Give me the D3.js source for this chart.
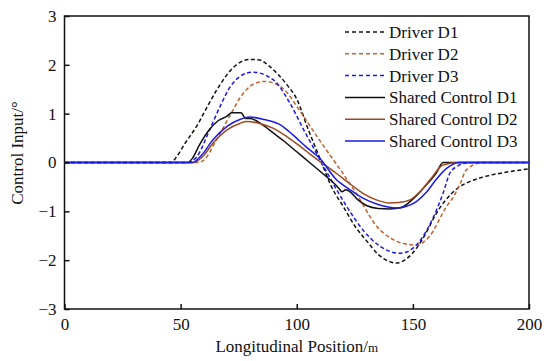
<!DOCTYPE html>
<html lang="en">
<head>
  <meta charset="UTF-8">
  <title>Control Input vs Longitudinal Position</title>
  <script src="https://d3js.org/d3.v7.min.js"></script>
  <style>
    body { margin: 0; background: #fff; }
    svg { display: block; }
    text { font-family: "Liberation Serif", "Times New Roman", serif; fill: #111; }
    .tick-label { font-size: 17px; }
    .axis-title { font-size: 17px; }
    .legend-label { font-size: 17px; }
  </style>
</head>
<body>
  <svg id="chart" width="550" height="361"></svg>

  <script>
    // ----- data (x in m, control input in deg) -----
    const xTicks = [0, 50, 100, 150, 200];
    const yTicks = [-3, -2, -1, 0, 1, 2, 3];

    const driverD1 = [[0,0],[46,0],[48,0.1],[52,0.4],[57,0.75],[61,1.1],[65.5,1.48],[70,1.8],[74,2.0],[80,2.11],[84,2.1],[88,1.98],[92,1.8],[96,1.58],[100,1.3],[105,0.67],[110,0.08],[115,-0.5],[120,-0.9],[125,-1.3],[130,-1.6],[135,-1.88],[140,-2.03],[143,-2.06],[147,-1.98],[150,-1.85],[155,-1.5],[160,-1.05],[165,-0.72],[170,-0.5],[175,-0.38],[180,-0.3],[190,-0.2],[200,-0.13]];
    const driverD2 = [[0,0],[57,0],[60,0.05],[65.5,0.47],[71,0.94],[77,1.42],[82.5,1.63],[86.5,1.66],[94,1.52],[101,1.08],[108.5,0.55],[113,0.24],[118.5,-0.13],[126,-0.66],[134,-1.28],[141.5,-1.58],[146,-1.66],[151.5,-1.69],[157,-1.52],[164.5,-0.9],[167.5,-0.7],[170.5,-0.42],[173,-0.15],[180,0],[200,0]];
    const driverD3 = [[0,0],[53,0],[57,0.12],[62.5,0.67],[67,1.15],[71.5,1.56],[75.5,1.76],[81,1.85],[90,1.69],[97,1.22],[103,0.67],[108.5,0.19],[114,-0.29],[121.5,-0.9],[128.5,-1.38],[136,-1.72],[144.5,-1.86],[151.5,-1.69],[159,-1.1],[163,-0.63],[166,-0.21],[169,-0.08],[173,-0.01],[176,0],[200,0]];
    const sharedD1 = [[0,0],[53,0],[55,0.08],[58,0.35],[62,0.65],[66,0.85],[70,0.95],[72,1.02],[76,1.02],[78,0.9],[80,0.9],[85,0.78],[90,0.6],[95,0.42],[100,0.22],[105,0.02],[110,-0.18],[115,-0.38],[118,-0.52],[119.5,-0.6],[121,-0.56],[123,-0.6],[126,-0.75],[130,-0.88],[135,-0.94],[140,-0.95],[145,-0.92],[150,-0.75],[155,-0.5],[160,-0.22],[163,0],[200,0]];
    const sharedD2 = [[0,0],[55.5,0],[60,0.15],[64,0.4],[70,0.67],[75.5,0.8],[78.5,0.84],[84,0.8],[90,0.7],[96,0.52],[101.5,0.33],[106,0.16],[110,0.02],[117,-0.22],[123,-0.44],[128.5,-0.63],[134,-0.76],[140,-0.83],[144,-0.82],[149,-0.76],[153,-0.6],[157.5,-0.35],[163,-0.05],[170,0],[200,0]];
    const sharedD3 = [[0,0],[55,0],[59,0.15],[64,0.47],[70,0.74],[75.5,0.88],[80,0.93],[86,0.88],[93,0.77],[98,0.58],[104,0.32],[110,0.08],[117,-0.35],[123,-0.56],[128.5,-0.73],[135,-0.86],[143,-0.93],[147,-0.9],[151.5,-0.8],[156,-0.6],[160,-0.35],[164.5,-0.12],[170,0],[200,0]];

    const seriesNames = ["Driver D1", "Driver D2", "Driver D3", "Shared Control D1", "Shared Control D2", "Shared Control D3"];
    const seriesData = [driverD1, driverD2, driverD3, sharedD1, sharedD2, sharedD3];
    const seriesColors = ["#111111", "#c0622e", "#1a1ae6", "#111111", "#9c4a1e", "#1a1ae6"];
    const seriesDashed = [true, true, true, false, false, false];

    // ----- layout -----
    const svg = d3.select("#chart");
    const plotLeft = 64.5, plotRight = 529, plotTop = 16, plotBottom = 309;

    const x = d3.scaleLinear().domain([0, 200]).range([plotLeft, plotRight]);
    const y = d3.scaleLinear().domain([-3, 3]).range([plotBottom, plotTop]);

    // frame
    svg.append("rect")
      .attr("x", plotLeft).attr("y", plotTop)
      .attr("width", plotRight - plotLeft).attr("height", plotBottom - plotTop)
      .attr("fill", "none").attr("stroke", "#111").attr("stroke-width", 1.5);

    // lines (clipped to plot)
    svg.append("defs").append("clipPath").attr("id", "plot-clip")
      .append("rect").attr("x", plotLeft).attr("y", plotTop)
      .attr("width", plotRight - plotLeft).attr("height", plotBottom - plotTop);

    const line = d3.line()
      .x(d => x(d[0]))
      .y(d => y(d[1]))
      .curve(d3.curveMonotoneX);

    const plot = svg.append("g").attr("clip-path", "url(#plot-clip)");
    seriesData.forEach((data, i) => {
      plot.append("path")
        .datum(data)
        .attr("d", line)
        .attr("fill", "none")
        .attr("stroke", seriesColors[i])
        .attr("stroke-width", 1.5)
        .attr("stroke-dasharray", seriesDashed[i] ? "4,2.5" : null);
    });

    // axes: ticks inside
    const xAxis = d3.axisBottom(x).tickValues(xTicks).tickSize(-5).tickPadding(9).tickFormat(d3.format("d"));
    const yAxis = d3.axisLeft(y).tickValues(yTicks).tickSize(-5).tickPadding(9)
      .tickFormat(d => d < 0 ? "\u2212" + Math.abs(d) : d);

    const gx = svg.append("g").attr("transform", `translate(0,${plotBottom})`).call(xAxis);
    const gy = svg.append("g").attr("transform", `translate(${plotLeft},0)`).call(yAxis);
    [gx, gy].forEach(g => {
      g.attr("font-family", null);
      g.select(".domain").remove();
      g.selectAll(".tick line").attr("stroke", "#111").attr("stroke-width", 1.5);
      g.selectAll(".tick text")
        .attr("class", "tick-label")
        .attr("fill", "#111");
    });
    gy.selectAll(".tick text").attr("x", -8);

    // axis titles
    const xTitle = svg.append("text")
      .attr("class", "axis-title")
      .attr("x", (plotLeft + plotRight) / 2)
      .attr("y", 352)
      .attr("text-anchor", "middle");
    xTitle.append("tspan").text("Longitudinal Position/");
    xTitle.append("tspan").style("font-size", "13px").text("m");

    svg.append("text")
      .attr("class", "axis-title")
      .attr("transform", "translate(23,153) rotate(-90)")
      .attr("text-anchor", "middle")
      .text("Control Input/°");

    // legend
    const legend = svg.append("g");
    seriesNames.forEach((name, i) => {
      const ly = 32 + i * 21.8;
      legend.append("line")
        .attr("x1", 345).attr("x2", 385)
        .attr("y1", ly).attr("y2", ly)
        .attr("stroke", seriesColors[i])
        .attr("stroke-width", 1.5)
        .attr("stroke-dasharray", seriesDashed[i] ? "4,3" : null);
      legend.append("text")
        .attr("class", "legend-label")
        .attr("x", 389)
        .attr("y", ly + 6)
        .text(name);
    });
  </script>
</body>
</html>
